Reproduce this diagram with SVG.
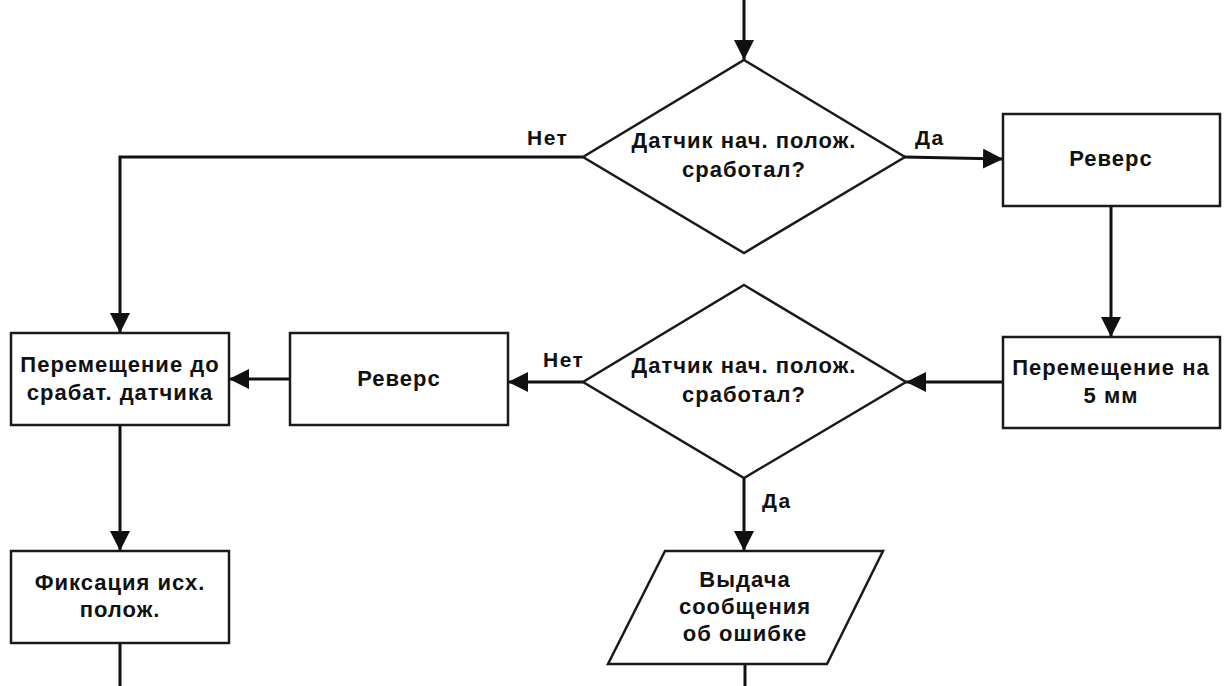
<svg xmlns="http://www.w3.org/2000/svg" width="1224" height="686" viewBox="0 0 1224 686">
  <style>
    .shape { fill: #ffffff; stroke: #1a1a1a; stroke-width: 2.5; }
    .line { fill: none; stroke: #111111; stroke-width: 3; }
    .txt { font-family: "Liberation Sans", Arial, sans-serif; font-weight: bold; font-size: 22px; letter-spacing: 1px; fill: #111111; text-anchor: middle; }
    .lbl { font-family: "Liberation Sans", Arial, sans-serif; font-weight: bold; font-size: 21px; letter-spacing: 1.5px; fill: #111111; }
  </style>
  <defs>
    <marker id="arrow" viewBox="0 0 20 20" refX="20" refY="10" markerWidth="20" markerHeight="20" markerUnits="userSpaceOnUse" orient="auto">
      <path d="M0,0 L20,10 L0,20 Z" fill="#111111"/>
    </marker>
  </defs>
  <rect width="1224" height="686" fill="#ffffff"/>

  <!-- connectors -->
  <g id="connectors">
    <path class="line" d="M744,0 V60" marker-end="url(#arrow)"/>
    <path class="line" d="M583,157 H120 V333" marker-end="url(#arrow)"/>
    <path class="line" d="M904,157 L1003,159" marker-end="url(#arrow)"/>
    <path class="line" d="M1111,206 V337" marker-end="url(#arrow)"/>
    <path class="line" d="M1003,382 H906" marker-end="url(#arrow)"/>
    <path class="line" d="M583,382 H508" marker-end="url(#arrow)"/>
    <path class="line" d="M290,379 H229" marker-end="url(#arrow)"/>
    <path class="line" d="M120,425 V551" marker-end="url(#arrow)"/>
    <path class="line" d="M120,643 V686"/>
    <path class="line" d="M744,478 V551" marker-end="url(#arrow)"/>
    <path class="line" d="M745,664 V686"/>
    <text class="lbl" x="527" y="145">Нет</text>
    <text class="lbl" x="915" y="145">Да</text>
    <text class="lbl" x="543" y="367">Нет</text>
    <text class="lbl" x="762" y="508">Да</text>
  </g>

  <g id="decision-top">
    <polygon class="shape" points="744,60 905,157 744,253 583,157"/>
    <text class="txt" x="744" y="148">Датчик нач. полож.</text>
    <text class="txt" x="744" y="177">сработал?</text>
  </g>

  <g id="reverse-top">
    <rect class="shape" x="1003" y="114" width="217" height="92"/>
    <text class="txt" x="1111" y="166">Реверс</text>
  </g>

  <g id="move-5mm">
    <rect class="shape" x="1003" y="337" width="217" height="91"/>
    <text class="txt" x="1111" y="375">Перемещение на</text>
    <text class="txt" x="1111" y="403">5 мм</text>
  </g>

  <g id="decision-bottom">
    <polygon class="shape" points="744,285 906,382 744,478 583,382"/>
    <text class="txt" x="744" y="373">Датчик нач. полож.</text>
    <text class="txt" x="744" y="402">сработал?</text>
  </g>

  <g id="reverse-middle">
    <rect class="shape" x="290" y="333" width="218" height="92"/>
    <text class="txt" x="399" y="386">Реверс</text>
  </g>

  <g id="move-to-sensor">
    <rect class="shape" x="11" y="333" width="218" height="92"/>
    <text class="txt" x="120" y="372">Перемещение до</text>
    <text class="txt" x="120" y="400">срабат. датчика</text>
  </g>

  <g id="fix-home">
    <rect class="shape" x="11" y="551" width="218" height="92"/>
    <text class="txt" x="120" y="590">Фиксация исх.</text>
    <text class="txt" x="120" y="617">полож.</text>
  </g>

  <g id="error-output">
    <polygon class="shape" points="665,551 883,551 827,664 608,664"/>
    <text class="txt" x="745" y="587">Выдача</text>
    <text class="txt" x="745" y="614">сообщения</text>
    <text class="txt" x="745" y="641">об ошибке</text>
  </g>
</svg>
